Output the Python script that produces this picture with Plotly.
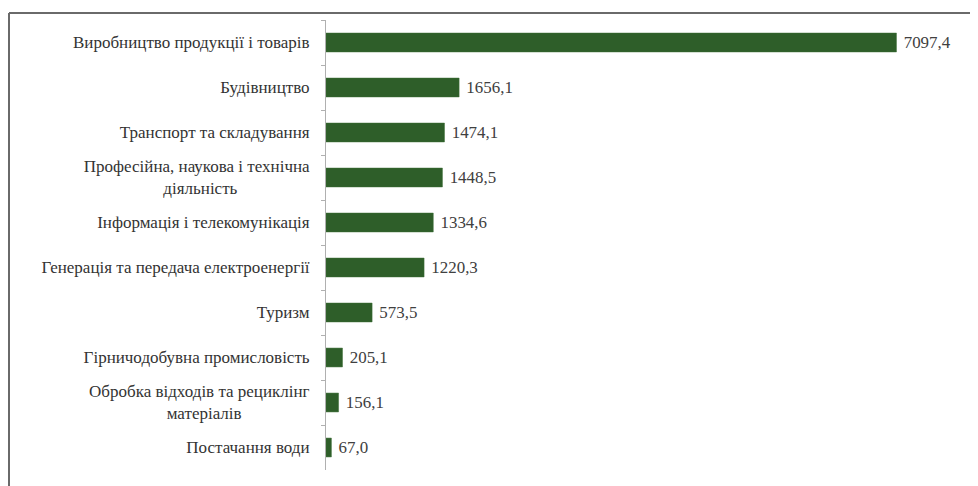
import plotly.graph_objects as go

NB = "\u00a0"
categories = [
    "Виробництво продукції і товарів",
    "Будівництво",
    "Транспорт та складування",
    "Професійна, наукова і технічна<br>діяльність" + NB * 17,
    "Інформація і телекомунікація",
    "Генерація та передача електроенергії",
    "Туризм",
    "Гірничодобувна промисловість",
    "Обробка відходів та рециклінг<br>матеріалів" + NB * 16,
    "Постачання води",
]
values = [7097.4, 1656.1, 1474.1, 1448.5, 1334.6, 1220.3, 573.5, 205.1, 156.1, 67.0]
value_labels = [NB + f"{v:.1f}".replace(".", ",") for v in values]

SERIF = "'Liberation Serif', 'Times New Roman', 'DejaVu Serif', serif"

# page has an 8px body margin; the figure fills the rest of the 978x486 window
W, H = 970, 478
L, R, T, B = 318, 9, 12, 16
pw = W - L - R
ph = H - T - B

def px_x(px):
    return (px - L) / pw

def px_y(py):
    return 1 - (py - T) / ph

fig = go.Figure(
    go.Bar(
        x=values,
        y=categories,
        orientation="h",
        marker=dict(color="#2e5e29", line=dict(color="#3c6e37", width=0.5)),
        text=value_labels,
        textposition="outside",
        cliponaxis=False,
        textfont=dict(family=SERIF, size=17, color="#404040"),
        hoverinfo="skip",
    )
)

fig.update_layout(
    template="none",
    width=W,
    height=H,
    margin=dict(l=L, r=R, t=T, b=B, autoexpand=False),
    paper_bgcolor="white",
    plot_bgcolor="white",
    showlegend=False,
    bargap=0.58,
    font=dict(family=SERIF, size=17, color="#333333"),
    shapes=[
        dict(type="line", xref="paper", yref="paper", layer="above",
             x0=px_x(1), x1=px_x(965), y0=px_y(5), y1=px_y(5),
             line=dict(color="#6a6a6a", width=2)),
        dict(type="line", xref="paper", yref="paper", layer="above",
             x0=px_x(1), x1=px_x(1), y0=px_y(5), y1=px_y(478),
             line=dict(color="#6a6a6a", width=2)),
    ],
)

fig.update_xaxes(
    range=[0, 8000],
    visible=False,
    showgrid=False,
    zeroline=False,
    automargin=False,
)
fig.update_yaxes(
    autorange="reversed",
    automargin=False,
    showgrid=False,
    zeroline=False,
    showline=True,
    linecolor="#b0b0b0",
    linewidth=1,
    ticks="outside",
    tickson="boundaries",
    ticklen=4,
    tickcolor="#b0b0b0",
    ticklabelstandoff=12,
    tickfont=dict(family=SERIF, size=17, color="#333333"),
)

fig.write_html("out.html", config={"displayModeBar": False})
